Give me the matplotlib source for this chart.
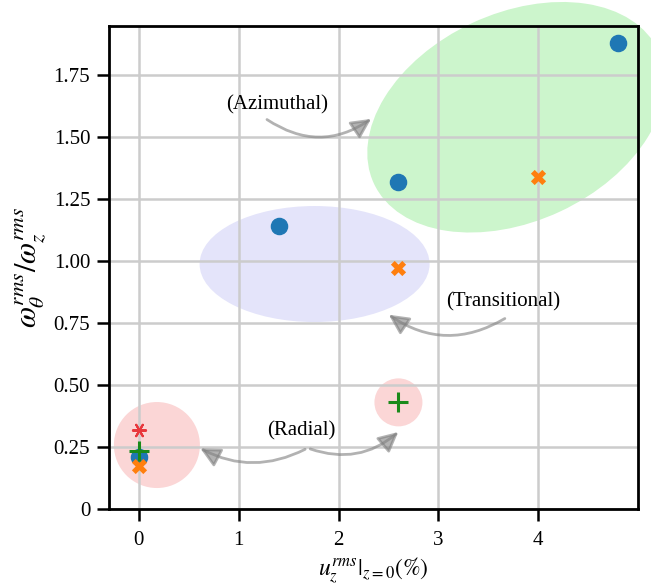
import matplotlib
matplotlib.use("Agg")
import matplotlib.pyplot as plt
from matplotlib.patches import Ellipse, FancyArrowPatch
from matplotlib.transforms import ScaledTranslation

plt.rcParams["font.family"] = ["Liberation Serif", "DejaVu Serif"]
plt.rcParams["mathtext.fontset"] = "stix"

# data
blue_x = [4.8, 2.6, 1.4, 0.0]
blue_y = [1.88, 1.32, 1.14, 0.21]
orange_x = [4.0, 2.6, 0.0]
orange_y = [1.34, 0.97, 0.175]
green_x = [0.0, 2.6]
green_y = [0.235, 0.43]
red_x = [0.0]
red_y = [0.318]

x_ticks = [0, 1, 2, 3, 4]
y_ticks = [0, 0.25, 0.5, 0.75, 1.0, 1.25, 1.5, 1.75]
y_tick_labels = ["0", "0.25", "0.50", "0.75", "1.00", "1.25", "1.50", "1.75"]

# highlight regions: (centre x, centre y, width in, height in, angle, colour)
regions = [
    (3.78, 1.58, 3.14, 2.08, 25, "#ccf5cc"),
    (1.76, 0.988, 2.30, 1.16, 0, "#e4e4fa"),
    (0.18, 0.258, 0.86, 0.86, 0, "#fbd6d6"),
    (2.60, 0.43, 0.48, 0.48, 0, "#fbd6d6"),
]

# labels and arrows: text pos, (start, end, rad) list
labels = [
    ("(Azimuthal)", (1.38, 1.63), [((1.26, 1.577), (2.35, 1.58), 0.35)]),
    ("(Transitional)", (3.65, 0.835), [((3.69, 0.774), (2.48, 0.79), -0.33)]),
    ("(Radial)", (1.63, 0.315), [((1.69, 0.246), (0.59, 0.25), -0.27),
                                 ((1.69, 0.246), (2.62, 0.318), 0.3)]),
]

fig = plt.figure(figsize=(6.51, 5.87), dpi=100)
ax = fig.add_axes([0.1674, 0.1329, 0.8126, 0.8228])

for cx, cy, w, h, ang, col in regions:
    tr = fig.dpi_scale_trans + ScaledTranslation(cx, cy, ax.transData)
    e = Ellipse((0, 0), w, h, angle=ang, transform=tr, facecolor=col,
                edgecolor="none", zorder=1, clip_on=False)
    ax.add_patch(e)

ax.scatter(blue_x, blue_y, s=135, marker="o", color="#1f77b4", zorder=3)
ax.scatter(orange_x, orange_y, s=120, marker="X", color="#ff7f0e",
           linewidths=0, zorder=4)
ax.scatter(green_x, green_y, s=200, marker="+", color="#1a8a1a",
           linewidths=2.2, zorder=5)
ax.scatter(red_x, red_y, s=90, marker=(6, 2, 90), color="#e8383d",
           linewidths=1.5, zorder=5)

for text, pos, arrows in labels:
    ax.text(pos[0], pos[1], text, fontsize=15, ha="center", va="center", zorder=6)
    for start, end, rad in arrows:
        arr = FancyArrowPatch(start, end, connectionstyle=f"arc3,rad={rad}",
                              arrowstyle="-|>,head_length=0.6,head_width=0.3",
                              mutation_scale=20, color="gray", alpha=0.6,
                              lw=2, zorder=6)
        ax.add_patch(arr)

ax.set_xlim(-0.3, 5.0)
ax.set_ylim(0, 1.948)
ax.set_xticks(x_ticks)
ax.set_xticklabels([str(t) for t in x_ticks])
ax.set_yticks(y_ticks)
ax.set_yticklabels(y_tick_labels)
ax.tick_params(labelsize=15, length=8.5, width=1.8)
ax.tick_params(axis="x", pad=7)
ax.tick_params(axis="y", pad=5)
ax.grid(True, color="#cccccc", lw=1.8)
for sp in ax.spines.values():
    sp.set_linewidth(2)

ax.set_xlabel(r"$u_z^{rms}|_{z=0}(\%)$", fontsize=17, labelpad=4)
ax.set_ylabel(r"$\omega_\theta^{rms}/\omega_z^{rms}$", fontsize=22, labelpad=4)

fig.savefig("out.png", dpi=100)
